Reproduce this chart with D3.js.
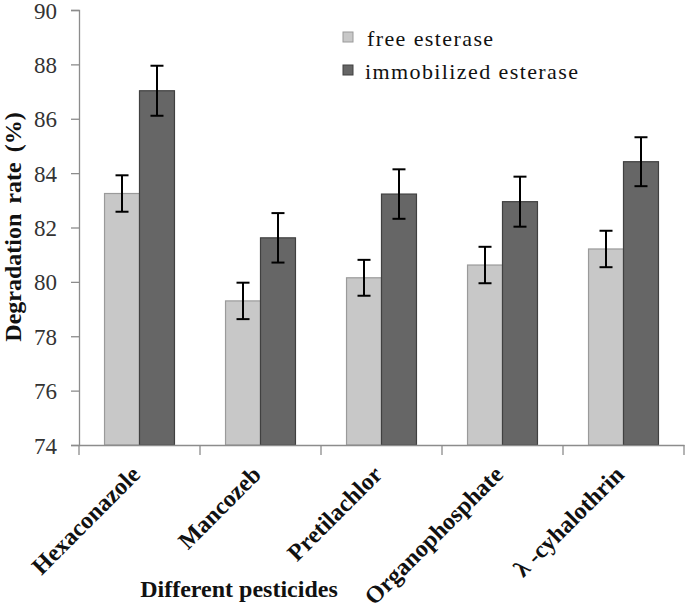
<!DOCTYPE html>
<html>
<head>
<meta charset="utf-8">
<script src="https://cdn.jsdelivr.net/npm/d3@7"></script>
<style>
  body { margin: 0; background: #fff; }
  svg { display: block; font-family: "Liberation Serif", "Times New Roman", serif; }
</style>
</head>
<body>
<div id="chart"></div>
<script>
const pesticides = ['Hexaconazole', 'Mancozeb', 'Pretilachlor', 'Organophosphate', 'λ -cyhalothrin'];
const seriesNames = ['free esterase', 'immobilized esterase'];
const freeValues = [83.25, 79.3, 80.15, 80.62, 81.21];
const freeErrors = [0.67, 0.67, 0.66, 0.67, 0.67];
const immobValues = [87.03, 81.62, 83.23, 82.95, 84.42];
const immobErrors = [0.92, 0.91, 0.91, 0.92, 0.9];
const yTicks = [74, 76, 78, 80, 82, 84, 86, 88, 90];

const width = 685;
const height = 612;
const margin = { top: 10, right: 1, bottom: 167, left: 79 };
const serif = '"Liberation Serif", "Times New Roman", serif';
const colors = ['#c8c8c8', '#666666'];
const strokes = ['#9a9a9a', '#404040'];

const rows = pesticides.map((name, i) => ({
    name,
    bars: [
        { s: 0, value: freeValues[i], err: freeErrors[i] },
        { s: 1, value: immobValues[i], err: immobErrors[i] }
    ]
}));

const svg = d3.select('#chart')
    .append('svg')
    .attr('width', width)
    .attr('height', height);

const x0 = d3.scaleBand()
    .domain(pesticides)
    .range([margin.left, width - margin.right]);

const x1 = d3.scaleBand()
    .domain([0, 1])
    .range([0, x0.bandwidth()])
    .paddingOuter(0.73);

const y = d3.scaleLinear()
    .domain([74, 90])
    .range([height - margin.bottom, margin.top]);

// bars
const groups = svg.selectAll('g.group')
    .data(rows)
    .join('g')
    .attr('class', 'group')
    .attr('transform', d => `translate(${x0(d.name)},0)`);

groups.selectAll('rect')
    .data(d => d.bars)
    .join('rect')
    .attr('x', d => x1(d.s))
    .attr('y', d => y(d.value))
    .attr('width', x1.bandwidth())
    .attr('height', d => y(74) - y(d.value))
    .attr('fill', d => colors[d.s])
    .attr('stroke', d => strokes[d.s])
    .attr('stroke-width', 1.2);

// error bars
const err = groups.selectAll('g.err')
    .data(d => d.bars)
    .join('g')
    .attr('class', 'err')
    .attr('stroke', '#000')
    .attr('stroke-width', 2);

err.append('line')
    .attr('x1', d => x1(d.s) + x1.bandwidth() / 2)
    .attr('x2', d => x1(d.s) + x1.bandwidth() / 2)
    .attr('y1', d => y(d.value + d.err))
    .attr('y2', d => y(d.value - d.err));

[1, -1].forEach(sign => {
    err.append('line')
        .attr('x1', d => x1(d.s) + x1.bandwidth() / 2 - 6.5)
        .attr('x2', d => x1(d.s) + x1.bandwidth() / 2 + 6.5)
        .attr('y1', d => y(d.value + sign * d.err))
        .attr('y2', d => y(d.value + sign * d.err));
});

// y axis
const yAxis = svg.append('g')
    .attr('transform', `translate(${margin.left},0)`)
    .call(d3.axisLeft(y).tickValues(yTicks).tickSize(8).tickPadding(14))
    .attr('font-family', serif);

yAxis.selectAll('text')
    .attr('font-family', serif)
    .attr('font-size', 23)
    .attr('dy', '0.35em')
    .attr('fill', '#333');

// x axis
const xAxis = svg.append('g')
    .attr('transform', `translate(0,${y(74)})`)
    .call(d3.axisBottom(x0).tickSize(0).tickFormat(''))
    .attr('font-family', serif);

xAxis.selectAll('.tick').remove();
xAxis.selectAll('line.sep')
    .data(pesticides.concat(['end']))
    .join('line')
    .attr('class', 'sep')
    .attr('x1', (d, i) => i < pesticides.length ? x0(d) : x0.range()[1])
    .attr('x2', (d, i) => i < pesticides.length ? x0(d) : x0.range()[1])
    .attr('y1', 0)
    .attr('y2', 10);

svg.selectAll('.domain, .tick line, line.sep')
    .attr('stroke', '#8c8c8c')
    .attr('stroke-width', 1.3);

xAxis.selectAll('text.cat')
    .data(pesticides)
    .join('text')
    .attr('class', 'cat')
    .attr('transform', d => `translate(${x0(d) + x0.bandwidth() / 2 + 2},31) rotate(-45)`)
    .attr('text-anchor', 'end')
    .attr('font-size', 24)
    .attr('font-weight', 'bold')
    .attr('fill', '#111')
    .text(d => d);

// axis titles
svg.append('text')
    .attr('transform', 'translate(21,227) rotate(-90)')
    .attr('text-anchor', 'middle')
    .attr('font-size', 24)
    .attr('font-weight', 'bold')
    .attr('word-spacing', 4)
    .attr('fill', '#111')
    .text('Degradation rate (%)');

svg.append('text')
    .attr('x', 239)
    .attr('y', 597)
    .attr('text-anchor', 'middle')
    .attr('font-size', 24)
    .attr('font-weight', 'bold')
    .attr('fill', '#111')
    .text('Different pesticides');

// legend
const legend = svg.append('g')
    .attr('transform', 'translate(343,32)');

const items = legend.selectAll('g')
    .data(seriesNames)
    .join('g')
    .attr('transform', (d, i) => `translate(0,${i * 33})`);

items.append('rect')
    .attr('width', 10)
    .attr('height', 10)
    .attr('fill', (d, i) => colors[i])
    .attr('stroke', (d, i) => strokes[i]);

items.append('text')
    .attr('x', (d, i) => i === 0 ? 24 : 22)
    .attr('y', 14)
    .attr('font-size', 22)
    .attr('letter-spacing', 1.4)
    .attr('fill', '#111')
    .text(d => d);
</script>
</body>
</html>
